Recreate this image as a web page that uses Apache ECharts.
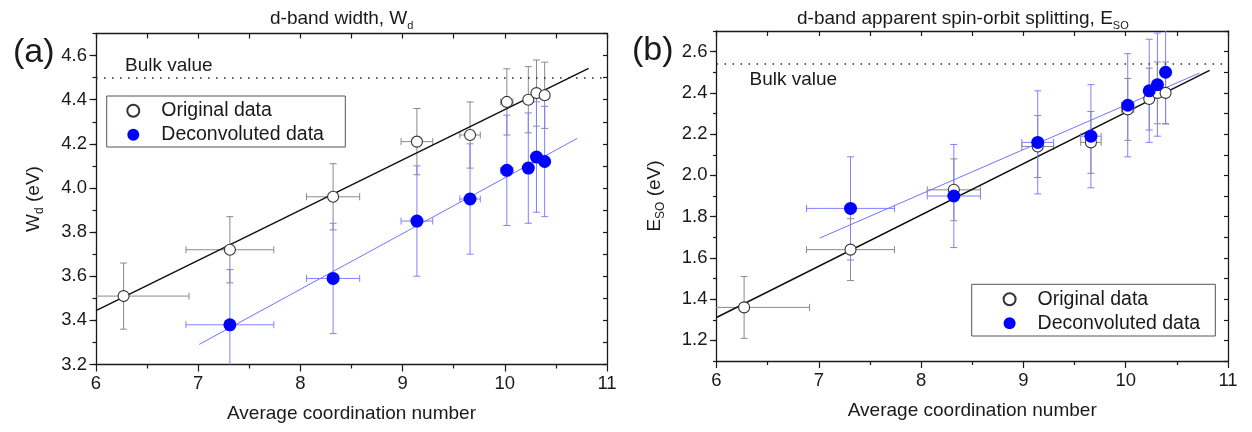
<!DOCTYPE html>
<html>
<head>
<meta charset="utf-8">
<script src="https://cdn.jsdelivr.net/npm/echarts@6/dist/echarts.min.js"></script>
<style>
  html, body { margin: 0; padding: 0; background: #ffffff; }
  #chart { width: 1252px; height: 432px; }
</style>
</head>
<body>
<div id="chart"></div>
<script>
// Average coordination number of the clusters, with its uncertainty
const coordOriginal = [6.27, 7.31, 8.32, 9.14, 9.66, 10.02, 10.23, 10.31, 10.39];
const coordOriginalErr = [0.64, 0.43, 0.26, 0.155, 0.10, 0.06, 0.03, 0.02, 0.02];
const coordDeconv = [7.31, 8.32, 9.14, 9.66, 10.02, 10.23, 10.31, 10.39];
const coordDeconvErr = [0.43, 0.26, 0.155, 0.10, 0.06, 0.03, 0.02, 0.02];

// (a) d-band width W_d (eV)
const widthOriginal = [3.51, 3.72, 3.96, 4.21, 4.24, 4.39, 4.40, 4.43, 4.42];
const widthOriginalErr = [0.15, 0.15, 0.15, 0.15, 0.15, 0.15, 0.15, 0.15, 0.15];
const widthDeconv = [3.38, 3.59, 3.85, 3.95, 4.08, 4.09, 4.14, 4.12];
const widthDeconvErr = [0.25, 0.25, 0.25, 0.25, 0.25, 0.25, 0.25, 0.25];
const widthBulk = 4.50;
const widthFitOriginal = [[6.0, 3.444], [10.82, 4.542]];
const widthFitDeconv = [[7.01, 3.291], [10.71, 4.225]];

// (b) apparent spin-orbit splitting E_SO (eV)
const soOriginal = [1.36, 1.64, 1.93, 2.14, 2.16, 2.32, 2.37, 2.40, 2.40];
const soOriginalErr = [0.15, 0.15, 0.15, 0.15, 0.15, 0.15, 0.15, 0.15, 0.15];
const soDeconv = [1.84, 1.90, 2.16, 2.19, 2.34, 2.41, 2.44, 2.50];
const soDeconvErr = [0.25, 0.25, 0.25, 0.25, 0.25, 0.25, 0.25, 0.25];
const soBulk = 2.54;
const soFitOriginal = [[6.0, 1.311], [10.82, 2.509]];
const soFitDeconv = [[7.01, 1.696], [10.72, 2.496]];

// Tick labels
const coordTicks = [6, 7, 8, 9, 10, 11];
const widthTicks = [3.2, 3.4, 3.6, 3.8, 4.0, 4.2, 4.4, 4.6];
const soTicks = [1.2, 1.4, 1.6, 1.8, 2.0, 2.2, 2.4, 2.6];

const FONT = "'Liberation Sans', Arial, Helvetica, sans-serif";
const INK = '#1a1a1a';
const GRAY_ERR = '#8a8a8a';
const BLUE_ERR = '#8080ff';
const BLUE = '#0000ff';

const rows = (xs, ys, xe, ye) => xs.map((x, i) => [x, ys[i], xe[i], ye[i]]);
const pairs = (xs, ys) => xs.map((x, i) => [x, ys[i]]);

// Cross-shaped error bars with end caps
function errorBars(color) {
  return function (params, api) {
    const x = api.value(0), y = api.value(1);
    const dx = api.value(2), dy = api.value(3);
    const cap = 3.5;
    const style = { stroke: color, lineWidth: 1, fill: null };
    const top = api.coord([x, y + dy]);
    const bot = api.coord([x, y - dy]);
    const lft = api.coord([x - dx, y]);
    const rgt = api.coord([x + dx, y]);
    const children = [
      { type: 'line', shape: { x1: top[0], y1: top[1], x2: bot[0], y2: bot[1] }, style },
      { type: 'line', shape: { x1: top[0] - cap, y1: top[1], x2: top[0] + cap, y2: top[1] }, style },
      { type: 'line', shape: { x1: bot[0] - cap, y1: bot[1], x2: bot[0] + cap, y2: bot[1] }, style },
      { type: 'line', shape: { x1: lft[0], y1: lft[1], x2: rgt[0], y2: rgt[1] }, style },
      { type: 'line', shape: { x1: lft[0], y1: lft[1] - cap, x2: lft[0], y2: lft[1] + cap }, style },
      { type: 'line', shape: { x1: rgt[0], y1: rgt[1] - cap, x2: rgt[0], y2: rgt[1] + cap }, style }
    ];
    return { type: 'group', children };
  };
}

const axisLineStyle = { color: INK, width: 1.3 };

function bottomAxis(grid) {
  return {
    type: 'value', gridIndex: grid, position: 'bottom',
    min: coordTicks[0], max: coordTicks[coordTicks.length - 1], interval: 1,
    name: 'Average coordination number', nameLocation: 'middle', nameGap: 40,
    nameTextStyle: { fontFamily: FONT, fontSize: 19, color: INK },
    axisLine: { onZero: false, lineStyle: axisLineStyle },
    axisTick: { inside: false, length: 7, lineStyle: { color: INK, width: 1.2 } },
    minorTick: { show: true, splitNumber: 2, length: 4, lineStyle: { color: INK, width: 1.2 } },
    axisLabel: { fontFamily: FONT, fontSize: 18.5, color: INK, margin: 10 },
    splitLine: { show: false }, minorSplitLine: { show: false }
  };
}
function topAxis(grid) {
  return {
    type: 'value', gridIndex: grid, position: 'top',
    min: coordTicks[0], max: coordTicks[coordTicks.length - 1], interval: 0.5,
    axisLine: { onZero: false, lineStyle: axisLineStyle },
    axisTick: { inside: true, length: 5, lineStyle: { color: INK, width: 1.2 } },
    axisLabel: { show: false }, splitLine: { show: false }
  };
}
function leftAxis(grid, ticks, min, max, nameRich) {
  return {
    type: 'value', gridIndex: grid, position: 'left',
    min, max, interval: 0.1,
    name: nameRich, nameLocation: 'middle', nameGap: 50, nameRotate: 90,
    nameTextStyle: {
      fontFamily: FONT, color: INK,
      rich: {
        m: { fontFamily: FONT, fontSize: 19, color: INK, lineHeight: 24, verticalAlign: 'middle' },
        s: { fontFamily: FONT, fontSize: 12, color: INK, lineHeight: 12, verticalAlign: 'bottom' }
      }
    },
    axisLine: { onZero: false, lineStyle: axisLineStyle },
    axisTick: { inside: false, length: 3.5, lineStyle: { color: INK, width: 1.2 } },
    axisLabel: {
      fontFamily: FONT, fontSize: 18.5, color: INK, margin: 9,
      customValues: ticks,
      formatter: v => ticks.some(t => Math.abs(t - v) < 1e-6) ? v.toFixed(1) : ''
    },
    splitLine: { show: false }
  };
}
function leftMajorTicks(grid, ticks, min, max) {
  return {
    type: 'value', gridIndex: grid, position: 'left',
    min, max, interval: 0.1,
    axisLine: { show: false },
    axisTick: { show: true, inside: false, length: 6.5, customValues: ticks, lineStyle: { color: INK, width: 1.2 } },
    axisLabel: { show: false }, splitLine: { show: false }
  };
}
function rightAxis(grid, min, max) {
  return {
    type: 'value', gridIndex: grid, position: 'right',
    min, max, interval: 0.1,
    axisLine: { onZero: false, lineStyle: axisLineStyle },
    axisTick: { inside: true, length: 4, lineStyle: { color: INK, width: 1.2 } },
    axisLabel: { show: false }, splitLine: { show: false }
  };
}

function bulkLine(value, position, distance) {
  return {
    silent: true, symbol: ['none', 'none'], animation: false,
    lineStyle: { color: '#333', width: 1.6, type: [1.6, 6.4] },
    label: {
      show: true, formatter: 'Bulk value', position, distance,
      fontFamily: FONT, fontSize: 19, color: INK
    },
    emphasis: { disabled: true },
    data: [{ yAxis: value }]
  };
}

function panelSeries(xi, yi, d) {
  return [
    {
      name: 'orig-err', type: 'custom', xAxisIndex: xi, yAxisIndex: yi, clip: true, silent: true,
      renderItem: errorBars(GRAY_ERR), encode: { x: 0, y: 1 }, z: 1,
      data: rows(coordOriginal, d.orig, coordOriginalErr, d.origErr)
    },
    {
      name: 'fit-orig', type: 'line', xAxisIndex: xi, yAxisIndex: yi, silent: true,
      showSymbol: false, symbol: 'none', z: 2,
      lineStyle: { color: '#111', width: 1.5 }, data: d.fitOrig
    },
    {
      name: 'dec-err', type: 'custom', xAxisIndex: xi, yAxisIndex: yi, clip: true, silent: true,
      renderItem: errorBars(BLUE_ERR), encode: { x: 0, y: 1 }, z: 3,
      data: rows(coordDeconv, d.dec, coordDeconvErr, d.decErr)
    },
    {
      name: 'fit-dec', type: 'line', xAxisIndex: xi, yAxisIndex: yi, silent: true,
      showSymbol: false, symbol: 'none', z: 4,
      lineStyle: { color: '#7373ff', width: 1 }, data: d.fitDec
    },
    {
      name: 'Original data', type: 'scatter', xAxisIndex: xi, yAxisIndex: yi, z: 5,
      symbol: 'circle', symbolSize: 11,
      itemStyle: { color: '#ffffff', borderColor: '#333', borderWidth: 1.1, opacity: 1 },
      data: pairs(coordOriginal, d.orig),
      markLine: bulkLine(d.bulk, d.bulkPos, d.bulkDist)
    },
    {
      name: 'Deconvoluted data', type: 'scatter', xAxisIndex: xi, yAxisIndex: yi, z: 6,
      symbol: 'circle', symbolSize: 13,
      itemStyle: { color: BLUE, borderWidth: 0, opacity: 1 },
      data: pairs(coordDeconv, d.dec)
    }
  ];
}

const legendBase = {
  orient: 'vertical', selectedMode: false,
  itemWidth: 46, itemHeight: 12, itemGap: 4,
  borderColor: '#555', borderWidth: 1,
  textStyle: { fontFamily: FONT, fontSize: 19.5, color: INK, lineHeight: 20 },
  data: ['Original data', 'Deconvoluted data']
};

const titleRich = {
  t: { fontFamily: FONT, fontSize: 19, fontWeight: 'normal', color: INK, lineHeight: 24, verticalAlign: 'middle' },
  s: { fontFamily: FONT, fontSize: 11, fontWeight: 'normal', color: INK, lineHeight: 11, verticalAlign: 'bottom' }
};

const chart = echarts.init(document.getElementById('chart'), null, { renderer: 'canvas' });
chart.setOption({
  animation: false,
  backgroundColor: '#ffffff',
  title: [
    { text: '{t|d-band width, W}{s|d}', left: 265, top: 2, textStyle: { fontWeight: 'normal', rich: titleRich } },
    { text: '{t|d-band apparent spin-orbit splitting, E}{s|SO}', left: 792, top: 2, textStyle: { fontWeight: 'normal', rich: titleRich } },
    { text: '(a)', left: 8, top: 31, textStyle: { fontFamily: FONT, fontSize: 34, fontWeight: 'normal', color: INK } },
    { text: '(b)', left: 627, top: 29, textStyle: { fontFamily: FONT, fontSize: 34, fontWeight: 'normal', color: INK } }
  ],
  legend: [
    Object.assign({}, legendBase, { left: 106.7, top: 96, padding: [4.7, 21.4, 2.3, 19.6] }),
    Object.assign({}, legendBase, { left: 971.7, top: 284.3, padding: [5, 15.1, 2.7, 30.9] })
  ],
  grid: [
    { left: 96, top: 33.5, width: 511, height: 331 },
    { left: 716.5, top: 31, width: 511.5, height: 330 }
  ],
  xAxis: [bottomAxis(0), topAxis(0), bottomAxis(1), topAxis(1)],
  yAxis: [
    leftAxis(0, widthTicks, 3.2, 4.7, '{m|W}{s|d}{m| (eV)}'),
    leftMajorTicks(0, widthTicks, 3.2, 4.7),
    rightAxis(0, 3.2, 4.7),
    leftAxis(1, soTicks, 1.1, 2.7, '{m|E}{s|SO}{m| (eV)}'),
    leftMajorTicks(1, soTicks, 1.1, 2.7),
    rightAxis(1, 1.1, 2.7)
  ],
  series: [].concat(
    panelSeries(0, 0, {
      orig: widthOriginal, origErr: widthOriginalErr,
      dec: widthDeconv, decErr: widthDeconvErr,
      fitOrig: widthFitOriginal, fitDec: widthFitDeconv,
      bulk: widthBulk, bulkPos: 'insideStartTop', bulkDist: [29, 2]
    }),
    panelSeries(2, 3, {
      orig: soOriginal, origErr: soOriginalErr,
      dec: soDeconv, decErr: soDeconvErr,
      fitOrig: soFitOriginal, fitDec: soFitDeconv,
      bulk: soBulk, bulkPos: 'insideStartBottom', bulkDist: [33, 6]
    })
  )
});
</script>
</body>
</html>
